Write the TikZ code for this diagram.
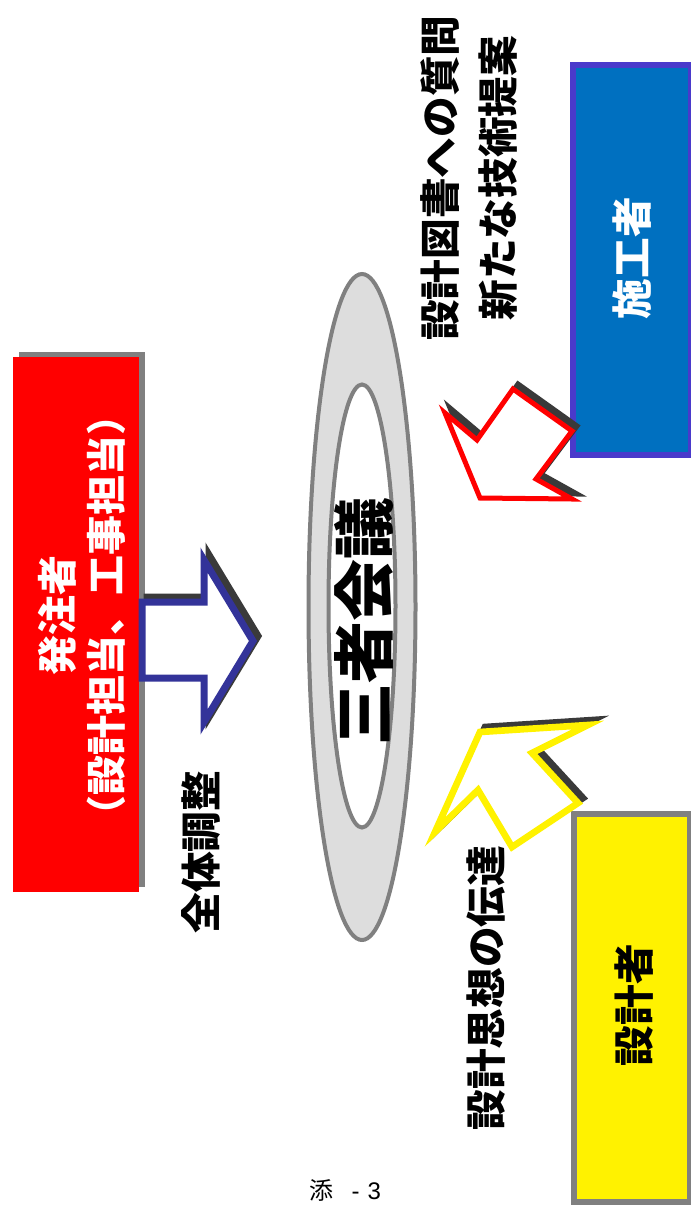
\documentclass[tikz,border=0pt]{standalone}
\usepackage{fontspec}
\usetikzlibrary{shapes.geometric}
\setmainfont{Liberation Sans}
\newfontfamily\jp{Noto Sans CJK JP}
\definecolor{navy}{HTML}{333399}
\definecolor{boxblue}{HTML}{0070C0}
\definecolor{boxblueline}{HTML}{4A3ACB}
\definecolor{ringgray}{HTML}{DDDDDD}
\definecolor{edgegray}{HTML}{808080}
\definecolor{shadowc}{HTML}{3A3A3A}
\newcommand\bluearrowpath{(142,602)--(204,602)--(204,560)--(253,641)--(204,722)--(204,678)--(142,678)--cycle}
\newcommand\redarrowpath{(445,413)--(480,498)--(572,499)--(536,479)--(572,431)--(513,389)--(477,440)--cycle}
\newcommand\yellowarrowpath{(435,832)--(480,732)--(588,725)--(532,753)--(578,803)--(512,847)--(478,790)--cycle}
\begin{document}
\begin{tikzpicture}[x=0.75pt,y=-0.75pt,
  lbl/.style={font=\jp\bfseries\fontsize{30.5}{36}\selectfont, rotate=90, inner sep=0pt},
  whitelbl/.style={lbl, text=white},
  shadowshape/.style={fill=shadowc, draw=shadowc, line join=miter, shift={(5,-5)}},
  blockarrow/.style={fill=white, line join=miter}
]
\useasboundingbox (0,0) rectangle (691,1207);

% client box with shadow
\fill[edgegray] (19,352) rectangle (145,887);
\node[fill=red, minimum width=126*0.75pt, minimum height=535*0.75pt, inner sep=0pt, anchor=north west] (client) at (13,357) {};
\node[whitelbl, align=center, font=\jp\bfseries\fontsize{30}{37}\selectfont] (clienttxt) at (82,615) {発注者\\（設計担当、工事担当）};

% contractor box
\node[draw=boxblueline, fill=boxblue, line width=4.5pt, minimum width=118*0.75pt, minimum height=390*0.75pt, inner sep=0pt, anchor=north west] (contractor) at (570,62) {};
\node[whitelbl] (contractortxt) at (632,258) {施工者};

% designer box
\node[draw=edgegray, fill=yellow, line width=4.5pt, minimum width=116*0.75pt, minimum height=388*0.75pt, inner sep=0pt, anchor=north west] (designer) at (571,811) {};
\node[lbl] (designertxt) at (634,1005) {設計者};

% central ellipses
\node[ellipse, draw=edgegray, fill=ringgray, line width=3pt, minimum width=107*0.75pt, minimum height=666*0.75pt, inner sep=0pt] (outer) at (362,607) {};
\node[ellipse, draw=edgegray, fill=white, line width=3pt, minimum width=67*0.75pt, minimum height=443*0.75pt, inner sep=0pt] (inner) at (362,606) {};
\node[lbl, font=\jp\bfseries\fontsize{46.5}{50}\selectfont] (meeting) at (364,621) {三者会議};

% block arrows with shadows
\filldraw[shadowshape, line width=5.25pt] \bluearrowpath;
\draw[blockarrow, draw=navy, line width=5.25pt] \bluearrowpath;
\filldraw[shadowshape, line width=3.75pt] \redarrowpath;
\draw[blockarrow, draw=red, line width=3.75pt] \redarrowpath;
\filldraw[shadowshape, line width=5pt] \yellowarrowpath;
\draw[blockarrow, draw=yellow, line width=5pt] \yellowarrowpath;

% labels
\node[lbl] (adjust) at (201,852) {全体調整};
\node[lbl, align=center, font=\jp\bfseries\fontsize{30.5}{43}\selectfont] (question) at (469,178) {設計図書への質問\\新たな技術提案};
\node[lbl] (intent) at (486,988) {設計思想の伝達};

% page footer
\node[font=\fontsize{18}{20}\selectfont, inner sep=0pt] (footer) at (345,1190) {{\jp 添}\hspace{14pt}-\hspace{6pt}3};
\end{tikzpicture}
\end{document}
